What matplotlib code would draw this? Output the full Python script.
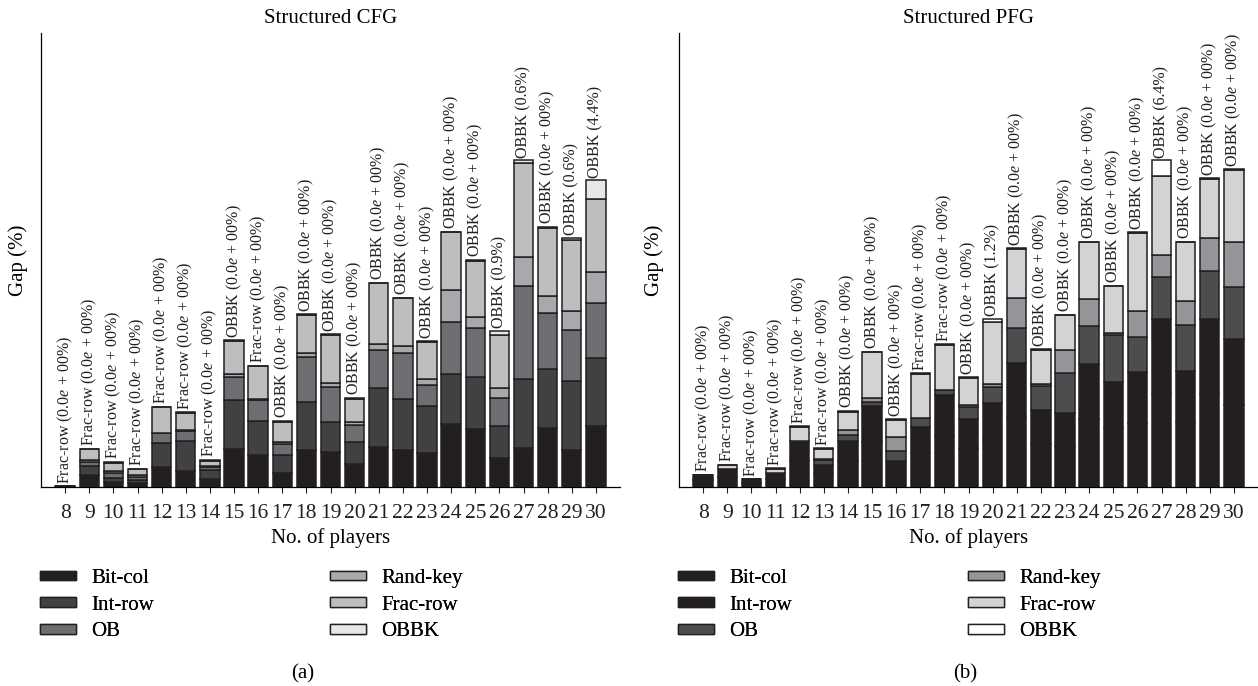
import matplotlib
matplotlib.use('Agg')
import matplotlib.pyplot as plt
import numpy as np
from matplotlib.patches import Patch

plt.rcParams['font.family'] = ['Liberation Serif', 'DejaVu Serif']
plt.rcParams['mathtext.fontset'] = 'custom'
plt.rcParams['mathtext.rm'] = 'Liberation Serif'
plt.rcParams['mathtext.it'] = 'Liberation Serif:italic'

players = list(range(8, 31))
methods = ["Bit-col", "Int-row", "OB", "Rand-key", "Frac-row", "OBBK"]

# Structured CFG (gap, stacked per method)
cfg_bitcol = [0.1, 1.17, 0.5, 0.4, 2.03, 1.57, 0.77, 3.83, 3.17, 1.37, 3.7, 3.47, 2.3, 4.03, 3.7, 3.37, 6.27, 5.77, 2.93, 3.87, 5.87, 3.7, 6.13]
cfg_introw = [0.0, 0.9, 0.43, 0.27, 2.33, 3.0, 0.93, 4.9, 3.43, 1.83, 4.83, 3.03, 2.17, 5.83, 5.07, 4.77, 5.03, 5.27, 3.2, 6.93, 5.93, 6.93, 6.73]
cfg_ob = [0.0, 0.43, 0.47, 0.33, 1.0, 1.03, 0.33, 2.27, 2.13, 1.1, 4.43, 3.47, 1.73, 3.83, 4.6, 2.07, 5.23, 4.83, 2.8, 9.33, 5.63, 5.07, 5.5]
cfg_randkey = [0.0, 0.17, 0.17, 0.17, 0.07, 0.07, 0.1, 0.33, 0.1, 0.23, 0.4, 0.4, 0.3, 0.57, 0.77, 0.57, 3.17, 1.17, 1.0, 2.83, 1.67, 1.9, 3.1]
cfg_fracrow = [0.0, 1.1, 0.87, 0.6, 2.53, 1.73, 0.5, 3.23, 3.23, 2.0, 3.83, 4.83, 2.33, 6.1, 4.73, 3.73, 5.77, 5.6, 5.27, 9.47, 6.83, 7.1, 7.33]
cfg_obbk = [0.0, 0.07, 0.07, 0.07, 0.07, 0.1, 0.1, 0.1, 0.07, 0.1, 0.07, 0.07, 0.1, 0.07, 0.07, 0.07, 0.07, 0.07, 0.4, 0.27, 0.1, 0.23, 1.9]
cfg_best = ["Frac-row"] * 7 + ["OBBK", "Frac-row"] + ["OBBK"] * 14
cfg_gap = ["0.0e + 00"] * 18 + ["0.9", "0.6", "0.0e + 00", "0.6", "4.4"]

# Structured PFG
pfg_bitcol = [0.7, 1.0, 0.45, 0.8, 2.6, 1.3, 2.6, 4.5, 1.5, 3.4, 5.1, 3.8, 4.7, 6.9, 4.3, 4.1, 6.8, 5.9, 6.4, 9.3, 6.5, 9.3, 8.2]
pfg_introw = [0.5, 0.77, 0.32, 0.57, 2.03, 0.9, 2.03, 3.6, 1.13, 2.63, 4.1, 2.97, 3.67, 5.47, 3.4, 3.3, 5.47, 4.63, 5.07, 7.5, 5.1, 7.5, 6.6]
pfg_ob = [0.0, 0.0, 0.0, 0.0, 0.0, 0.5, 0.57, 0.43, 0.97, 0.83, 0.5, 1.27, 1.6, 3.57, 2.43, 4.0, 3.83, 4.67, 3.57, 4.23, 4.6, 4.8, 5.17]
pfg_randkey = [0.0, 0.07, 0.0, 0.0, 0.0, 0.07, 0.5, 0.33, 1.37, 0.0, 0.0, 0.17, 0.3, 2.93, 0.13, 2.33, 2.7, 0.23, 2.57, 2.17, 2.43, 3.33, 4.5]
pfg_fracrow = [0.0, 0.33, 0.0, 0.43, 1.4, 1.03, 1.83, 4.6, 1.73, 4.43, 4.53, 2.7, 6.27, 4.93, 3.43, 3.43, 5.67, 4.63, 7.8, 7.93, 5.83, 5.87, 7.23]
pfg_obbk = [0.0, 0.07, 0.0, 0.07, 0.07, 0.07, 0.07, 0.07, 0.07, 0.07, 0.07, 0.07, 0.27, 0.07, 0.07, 0.07, 0.07, 0.07, 0.07, 1.57, 0.07, 0.07, 0.07]
pfg_best = ["Frac-row"] * 6 + ["OBBK"] * 3 + ["Frac-row"] * 2 + ["OBBK"] * 12
pfg_gap = ["0.0e + 00"] * 12 + ["1.2"] + ["0.0e + 00"] * 6 + ["6.4"] + ["0.0e + 00"] * 3

cfg_colors = ["#231f20", "#414042", "#6d6e71", "#a7a9ac", "#bcbec0", "#e6e7e8"]
pfg_colors = ["#231f20", "#231f20", "#4d4d4f", "#939598", "#d1d3d4", "#ffffff"]

fig = plt.figure(figsize=(12.58, 6.86), dpi=100)
ax1 = fig.add_axes([41 / 1258, 1 - 487 / 686, 579 / 1258, 454 / 686])
ax2 = fig.add_axes([679 / 1258, 1 - 487 / 686, 579 / 1258, 454 / 686])
ymax = 45.4


def fmt_label(best, gap):
    if "e" in gap:
        return best + r" (0.0$\it{e}$ + 00%)"
    return f"{best} ({gap}%)"


def draw_panel(ax, series, colors, best, gaps, title, ylab_x):
    bottom = np.zeros(len(players))
    for vals, col in zip(series, colors):
        ax.bar(players, vals, width=0.8, bottom=bottom, color=col,
               edgecolor="#231f20", linewidth=1.1)
        bottom = bottom + np.asarray(vals)
    for x, top, b, g in zip(players, bottom, best, gaps):
        ax.text(x, top + 0.25, fmt_label(b, g), rotation=90, ha="center",
                va="bottom", fontsize=11.5, color="#231f20")
    ax.set_xlim(7, 31)
    ax.set_ylim(0, ymax)
    ax.set_xticks(players)
    ax.tick_params(axis="x", direction="out", length=4, width=0.8,
                   labelsize=15.5, pad=8, colors="#231f20")
    ax.set_yticks([])
    for s in ["top", "right"]:
        ax.spines[s].set_visible(False)
    ax.spines["left"].set_linewidth(0.9)
    ax.spines["bottom"].set_linewidth(0.9)
    ax.set_xlabel("No. of players", fontsize=15, labelpad=4)
    ax.set_ylabel("Gap (%)", fontsize=15)
    ax.yaxis.set_label_coords(ylab_x, 0.5)
    ax.set_title(title, fontsize=15, pad=7)


draw_panel(ax1, [cfg_bitcol, cfg_introw, cfg_ob, cfg_randkey, cfg_fracrow, cfg_obbk],
           cfg_colors, cfg_best, cfg_gap, "Structured CFG", -0.022)
draw_panel(ax2, [pfg_bitcol, pfg_introw, pfg_ob, pfg_randkey, pfg_fracrow, pfg_obbk],
           pfg_colors, pfg_best, pfg_gap, "Structured PFG", -0.026)


def add_legend(colors, x_left, x_right):
    handles = [Patch(facecolor=c, edgecolor="#231f20", linewidth=1.0) for c in colors]
    for i, x in enumerate([x_left, x_right]):
        leg = fig.legend(handles[3 * i:3 * i + 3], methods[3 * i:3 * i + 3],
                         loc="upper left", bbox_to_anchor=(x / 1258, 1 - 569 / 686),
                         frameon=False, fontsize=15, handlelength=1.75,
                         handleheight=0.33, handletextpad=0.7, labelspacing=0.37,
                         borderpad=0, borderaxespad=0)
        fig.add_artist(leg)


add_legend(cfg_colors, 40, 330)
add_legend(pfg_colors, 678, 968)

fig.text(303 / 1258, 1 - 674 / 686, "(a)", ha="center", va="center", fontsize=15)
fig.text(965 / 1258, 1 - 674 / 686, "(b)", ha="center", va="center", fontsize=15)

fig.savefig("out.png", dpi=100)
